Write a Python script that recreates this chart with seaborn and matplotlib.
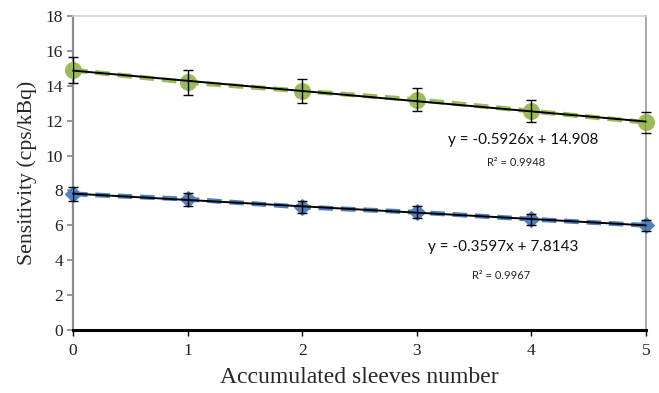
import numpy as np
import pandas as pd
import matplotlib
matplotlib.use("Agg")
import matplotlib.pyplot as plt
import seaborn as sns

sleeves = [0, 1, 2, 3, 4, 5]
green_vals = [14.9, 14.2, 13.7, 13.2, 12.55, 11.9]
green_err = [0.75, 0.71, 0.69, 0.66, 0.63, 0.60]
blue_vals = [7.8, 7.5, 7.05, 6.75, 6.35, 6.0]
blue_err = [0.39, 0.37, 0.35, 0.34, 0.32, 0.30]
green_eq = "y = -0.5926x + 14.908"
green_r2 = "R² = 0.9948"
blue_eq = "y = -0.3597x + 7.8143"
blue_r2 = "R² = 0.9967"
y_ticks = [0, 2, 4, 6, 8, 10, 12, 14, 16, 18]

GREEN = "#9BBB59"
BLUE = "#4F81BD"

sns.set_theme(style="white")
plt.rcParams['font.family'] = ['Liberation Serif', 'DejaVu Serif']

df_g = pd.DataFrame({"x": sleeves, "y": green_vals})
df_b = pd.DataFrame({"x": sleeves, "y": blue_vals})

fig = plt.figure(figsize=(6.59, 3.93), dpi=100)
ax = fig.add_axes([0.1108, 0.1603, 0.8694, 0.7990])

for df, err, col, mk, ms in [(df_g, green_err, GREEN, "o", 11.5), (df_b, blue_err, BLUE, "D", 8)]:
    sns.lineplot(data=df, x="x", y="y", ax=ax, color=col, lw=3.5,
                 linestyle=(0, (3, 1.6)), marker=mk, markersize=ms,
                 markeredgecolor=col, zorder=2)
    ax.errorbar(df["x"], df["y"], yerr=err, fmt="none", ecolor="black",
                elinewidth=1.0, capsize=3.5, capthick=1.0, zorder=4)
    sns.regplot(data=df, x="x", y="y", ax=ax, scatter=False, ci=None,
                truncate=True, line_kws=dict(color="black", lw=1.4, zorder=3))

ax.set_xlim(0, 5)
ax.set_ylim(0, 18)
ax.set_yticks(y_ticks)
ax.set_xticks(sleeves)
ax.set_xlabel("Accumulated sleeves number", fontsize=17, labelpad=6)
ax.set_ylabel("Sensitivity (cps/kBq)", fontsize=15.7, labelpad=6)
ax.tick_params(axis="both", labelsize=12.5, length=4, direction="out")
ax.tick_params(axis="y", color="#888888", width=1.2, pad=3, left=True)
ax.tick_params(axis="x", color="black", width=1.0, pad=5, bottom=True)
for lbl in ax.get_xticklabels() + ax.get_yticklabels():
    lbl.set_color("#222222")

ax.spines["left"].set_color("#8c8c8c")
ax.spines["left"].set_linewidth(1.6)
ax.spines["bottom"].set_color("black")
ax.spines["bottom"].set_linewidth(2.2)
ax.spines["top"].set_color("#d0d0d0")
ax.spines["top"].set_linewidth(1.2)
ax.spines["right"].set_color("#999999")
ax.spines["right"].set_linewidth(1.2)
for s in ax.spines.values():
    s.set_zorder(1)

sans = ["Lato", "DejaVu Sans"]
ax.text(3.93, 10.9, green_eq, ha="center", va="center", fontsize=11, family=sans, color="#111111")
ax.text(3.87, 9.63, green_r2, ha="center", va="center", fontsize=8, family=sans, color="#222222")
ax.text(3.75, 4.76, blue_eq, ha="center", va="center", fontsize=11, family=sans, color="#111111")
ax.text(3.74, 3.15, blue_r2, ha="center", va="center", fontsize=8, family=sans, color="#222222")

for l in ax.lines:
    l.set_clip_on(False)

fig.savefig("out.png", dpi=100)
